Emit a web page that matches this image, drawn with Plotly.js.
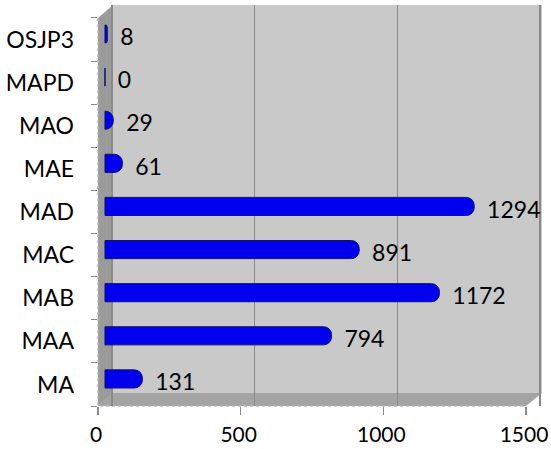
<!DOCTYPE html>
<html>
<head>
<meta charset="utf-8">
<script src="https://cdn.plot.ly/plotly-3.0.1.min.js"></script>
<style>html,body{margin:0;padding:0;background:#fff}#chart{width:551px;height:449px}</style>
</head>
<body>
<div id="chart"></div>
<script>
const categories = ["MA", "MAA", "MAB", "MAC", "MAD", "MAE", "MAO", "MAPD", "OSJP3"];
const values = [131, 794, 1172, 891, 1294, 61, 29, 0, 8];
const xTicks = [0, 500, 1000, 1500];

const FONT = {family: "Lato, 'Open Sans', sans-serif", size: 23, color: "#000"};
const XFONT = {family: "Lato, 'Open Sans', sans-serif", size: 21, color: "#000"};

// plot area in px: x 98..542, y 5..406
const L = 98, R = 542, T = 5, B = 406;
const px = v => (v - L) / (R - L);
const py = v => (B - v) / (B - T);
function path(pts) {
  return "M" + pts.map(p => px(p[0]).toFixed(4) + "," + py(p[1]).toFixed(4)).join(" L") + " Z";
}
// 3D depth: back wall is DEPTH px to the right of the front plane
const SCALE = 428 / 1500;           // px per unit
const DEPTH = 14;
const frontTicks = xTicks.map(v => v - DEPTH / SCALE);

const bars = {
  type: "bar",
  orientation: "h",
  x: values,
  y: categories,
  xaxis: "x2",
  yaxis: "y2",
  marker: {color: "#0000ee", line: {color: "#10106a", width: 1}, cornerradius: 8},
  hoverinfo: "x+y"
};

const labels = {
  type: "scatter",
  mode: "text",
  x: values,
  y: categories,
  xaxis: "x",
  yaxis: "y",
  text: values.map(v => "\u00a0" + String(v)),
  textposition: "middle right",
  textfont: FONT,
  hoverinfo: "skip",
  cliponaxis: false
};

const layout = {
  width: 551,
  height: 449,
  margin: {l: 98, r: 9, t: 5, b: 43},
  paper_bgcolor: "#ffffff",
  plot_bgcolor: "rgba(0,0,0,0)",
  showlegend: false,
  bargap: 0.58,
  font: FONT,
  xaxis: {
    range: [-49, 1507],
    tickmode: "array",
    tickvals: xTicks,
    ticks: "",
    ticklabelshift: -DEPTH - 2,
    ticklabelstandoff: 14,
    ticklabeloverflow: "allow",
    showgrid: true,
    gridcolor: "#8a8a8a",
    gridwidth: 1.5,
    zeroline: false,
    showline: false,
    tickfont: XFONT,
    minor: {tickmode: "array", tickvals: frontTicks, ticks: "outside", ticklen: 8,
            tickcolor: "#8c8c8c", tickwidth: 1.5, showgrid: false},
    fixedrange: true
  },
  xaxis2: {
    overlaying: "x",
    range: [-24.5, 1531.5],
    visible: false,
    fixedrange: true
  },
  yaxis: {
    type: "category",
    categoryorder: "array",
    categoryarray: categories,
    range: [-0.5, 8.80],
    tickson: "boundaries",
    ticks: "outside",
    ticklen: 6,
    tickcolor: "#8c8c8c",
    showgrid: false,
    zeroline: false,
    showline: false,
    tickfont: FONT,
    ticklabelstandoff: 23,
    fixedrange: true
  },
  yaxis2: {
    type: "category",
    categoryorder: "array",
    categoryarray: categories,
    overlaying: "y",
    range: [-0.628, 8.672],
    visible: false,
    fixedrange: true
  },
  shapes: [
    {type: "path", xref: "paper", yref: "paper", layer: "below",
     path: path([[112, 5], [542, 5], [542, 393], [112, 393]]),
     fillcolor: "#c9c9c9", line: {width: 0}},
    {type: "path", xref: "paper", yref: "paper", layer: "between",
     path: path([[98, 406], [98, 18], [113, 5], [113, 393]]),
     fillcolor: "#9b9b9b", line: {width: 0}},
    {type: "path", xref: "paper", yref: "paper", layer: "between",
     path: path([[98, 406], [526, 406], [542, 393], [112, 393]]),
     fillcolor: "#a4a4a4", line: {width: 0}},
    {type: "path", xref: "paper", yref: "paper", layer: "between",
     path: "M" + px(98) + "," + py(18) + " L" + px(98) + "," + py(406) + " L" + px(526) + "," + py(406),
     line: {color: "#b8b8b8", width: 1.5, dash: "dot"}}
  ]
};

Plotly.newPlot("chart", [bars, labels], layout, {displayModeBar: false, staticPlot: true});
</script>
</body>
</html>
